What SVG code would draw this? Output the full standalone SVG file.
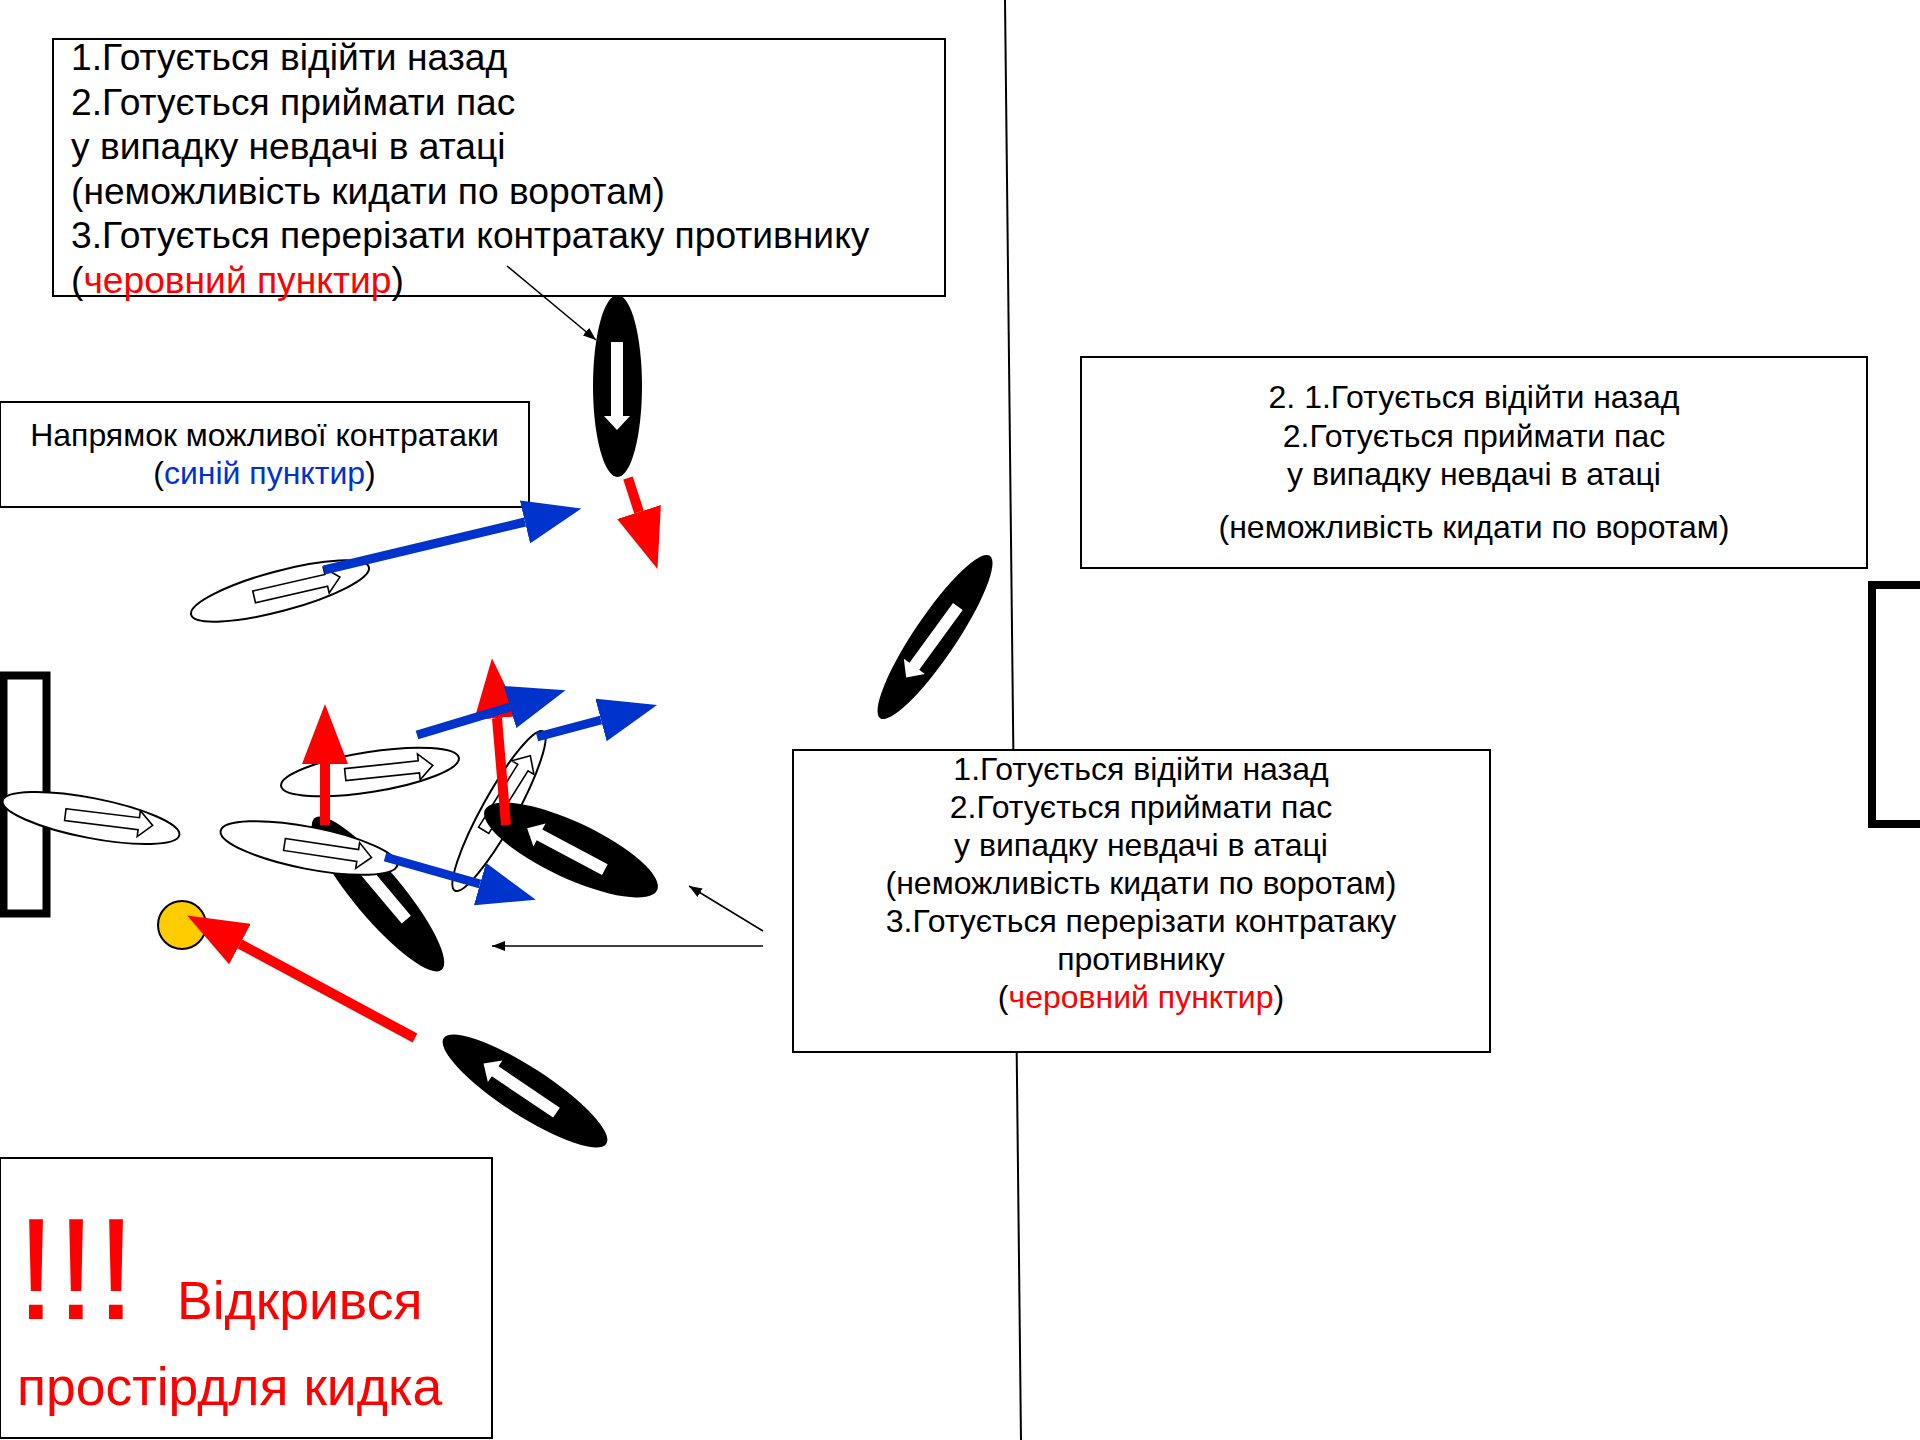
<svg xmlns="http://www.w3.org/2000/svg" width="1920" height="1440" viewBox="0 0 1920 1440">
<style>
text{font-family:'Liberation Sans',Arial,sans-serif;fill:#000}
.box{fill:#fff;stroke:#000;stroke-width:2}
.big{font-size:37.2px}
.mid{font-size:32px}
.red{fill:#ff0000}
.blue{fill:#0033cc}
.blk{fill:#000}
.wht{fill:#fff;stroke:#000;stroke-width:2}
.bin{fill:#fff}
.win{fill:#fff;stroke:#000;stroke-width:1.6}
.ra{stroke:#ff0000;stroke-width:10;fill:none}
.ba{stroke:#0033cc;stroke-width:9;fill:none}
.ta{stroke:#000;stroke-width:1.5;fill:none}
.goal{fill:#fff;stroke:#000;stroke-width:8}
</style>
<defs>
<path id="arr" d="M-44,-6 L30,-6 L30,-13 L44,0 L30,13 L30,6 L-44,6 Z"/>
<marker id="hr" markerUnits="userSpaceOnUse" markerWidth="60" markerHeight="46" viewBox="0 0 60 46" refX="0" refY="23" orient="auto"><path d="M0,0 L60,23 L0,46 Z" fill="#ff0000"/></marker>
<marker id="hb" markerUnits="userSpaceOnUse" markerWidth="58" markerHeight="44" viewBox="0 0 58 44" refX="0" refY="22" orient="auto"><path d="M0,0 L58,22 L0,44 Z" fill="#0033cc"/></marker>
<marker id="ht" markerUnits="userSpaceOnUse" markerWidth="13" markerHeight="10" viewBox="0 0 13 10" refX="13" refY="5" orient="auto"><path d="M0,0 L13,5 L0,10 Z" fill="#000"/></marker>
</defs>

<g id="field-line"><line x1="1005" y1="0" x2="1021" y2="1440" stroke="#000" stroke-width="2"/></g>

<g id="goal-left"><rect class="goal" x="3.5" y="675.5" width="43" height="238" stroke-width="7"/></g>
<g id="goal-right"><rect class="goal" x="1872" y="585" width="60" height="239"/></g>

<g id="box-top">
<rect class="box" x="53" y="39" width="892" height="257"/>
<text class="big" x="71" y="70">1.Готується відійти назад</text>
<text class="big" x="71" y="114.6">2.Готується приймати пас</text>
<text class="big" x="71" y="159.2">у випадку невдачі в атаці</text>
<text class="big" x="71" y="203.8">(неможливість кидати по воротам)</text>
<text class="big" x="71" y="248.4">3.Готується перерізати контратаку противнику</text>
<text class="big" x="71" y="293">(<tspan class="red">черовний пунктир</tspan>)</text>
</g>

<g id="box-direction">
<rect class="box" x="0" y="402" width="529" height="105"/>
<text class="mid" x="264.5" y="446" text-anchor="middle">Напрямок можливої контратаки</text>
<text class="mid" x="264.5" y="484" text-anchor="middle">(<tspan class="blue">синій пунктир</tspan>)</text>
</g>

<g id="box-right">
<rect class="box" x="1081" y="357" width="786" height="211"/>
<text class="mid" x="1474" y="408" text-anchor="middle">2. 1.Готується відійти назад</text>
<text class="mid" x="1474" y="447" text-anchor="middle">2.Готується приймати пас</text>
<text class="mid" x="1474" y="485" text-anchor="middle">у випадку невдачі в атаці</text>
<text class="mid" x="1474" y="538" text-anchor="middle">(неможливість кидати по воротам)</text>
</g>

<g id="box-center">
<rect class="box" x="793" y="750" width="697" height="302"/>
<text class="mid" x="1141" y="780" text-anchor="middle">1.Готується відійти назад</text>
<text class="mid" x="1141" y="818" text-anchor="middle">2.Готується приймати пас</text>
<text class="mid" x="1141" y="856" text-anchor="middle">у випадку невдачі в атаці</text>
<text class="mid" x="1141" y="894" text-anchor="middle">(неможливість кидати по воротам)</text>
<text class="mid" x="1141" y="932" text-anchor="middle">3.Готується перерізати контратаку</text>
<text class="mid" x="1141" y="970" text-anchor="middle">противнику</text>
<text class="mid" x="1141" y="1008" text-anchor="middle">(<tspan class="red">черовний пунктир</tspan>)</text>
</g>

<g id="box-warning">
<rect class="box" x="0" y="1158" width="492" height="280"/>
<text class="red" x="16" y="1319" font-size="144">!!!</text>
<text class="red" x="177" y="1319" font-size="53.5">Відкрився</text>
<text class="red" x="17" y="1405" font-size="53.5">простірдля кидка</text>
</g>

<g id="player-w1"><ellipse class="wht" cx="0" cy="0" rx="92" ry="20" transform="translate(280,591) rotate(-15)"/><use href="#arr" class="win" transform="translate(297,587) rotate(-13)"/></g>
<g id="player-w2"><ellipse class="wht" cx="0" cy="0" rx="90" ry="20" transform="translate(91,818) rotate(11)"/><use href="#arr" class="win" transform="translate(109,820) rotate(7)"/></g>
<g id="player-w3"><ellipse class="wht" cx="0" cy="0" rx="90" ry="20" transform="translate(370,772) rotate(-9)"/><use href="#arr" class="win" transform="translate(389,770) rotate(-6)"/></g>
<g id="player-b3"><ellipse class="blk" cx="0" cy="0" rx="99" ry="24" transform="translate(378,894) rotate(50)"/><use href="#arr" class="bin" transform="translate(378,886) rotate(230)"/></g>
<g id="player-w4"><ellipse class="wht" cx="0" cy="0" rx="90" ry="21" transform="translate(309,848) rotate(11)"/><use href="#arr" class="win" transform="translate(328,851) rotate(8.5)"/></g>
<g id="player-w5"><ellipse class="wht" cx="0" cy="0" rx="91" ry="17" transform="translate(499,811) rotate(-61)"/><use href="#arr" class="win" transform="translate(507,793) rotate(-58)"/></g>
<g id="player-b4"><ellipse class="blk" cx="0" cy="0" rx="95" ry="28" transform="translate(571,850) rotate(25)"/><use href="#arr" class="bin" transform="translate(566,849) rotate(208)"/></g>
<g id="player-b1"><ellipse class="blk" cx="617.5" cy="386" rx="24.5" ry="91"/><use href="#arr" class="bin" transform="translate(617,386) rotate(90)"/></g>
<g id="player-b2"><ellipse class="blk" cx="0" cy="0" rx="98" ry="21" transform="translate(935,637) rotate(-56)"/><use href="#arr" class="bin" transform="translate(932,642) rotate(126)"/></g>
<g id="player-b5"><ellipse class="blk" cx="0" cy="0" rx="97" ry="24" transform="translate(525,1091) rotate(33)"/><use href="#arr" class="bin" transform="translate(520,1088) rotate(214)"/></g>
<g id="ball"><ellipse cx="182" cy="925" rx="24" ry="24" fill="#ffcc00" stroke="#000" stroke-width="2"/></g>

<g id="connectors">
<line class="ra" x1="628" y1="478" x2="639" y2="512" marker-end="url(#hr)"/>
<line class="ra" x1="325" y1="825" x2="325" y2="764" marker-end="url(#hr)"/>
<line class="ra" x1="506" y1="825" x2="497" y2="718" marker-end="url(#hr)"/>
<line class="ra" x1="415" y1="1038" x2="240" y2="944" marker-end="url(#hr)"/>
<line class="ba" x1="324" y1="570" x2="525" y2="522" marker-end="url(#hb)"/>
<line class="ba" x1="417" y1="735" x2="510" y2="707" marker-end="url(#hb)"/>
<line class="ba" x1="537" y1="737" x2="601" y2="720" marker-end="url(#hb)"/>
<line class="ba" x1="385" y1="857" x2="480" y2="884" marker-end="url(#hb)"/>
<line class="ta" x1="507" y1="266" x2="596" y2="340" marker-end="url(#ht)"/>
<line class="ta" x1="763" y1="931" x2="689" y2="886" marker-end="url(#ht)"/>
<line class="ta" x1="763" y1="946" x2="492" y2="946" marker-end="url(#ht)"/>
</g>
</svg>
